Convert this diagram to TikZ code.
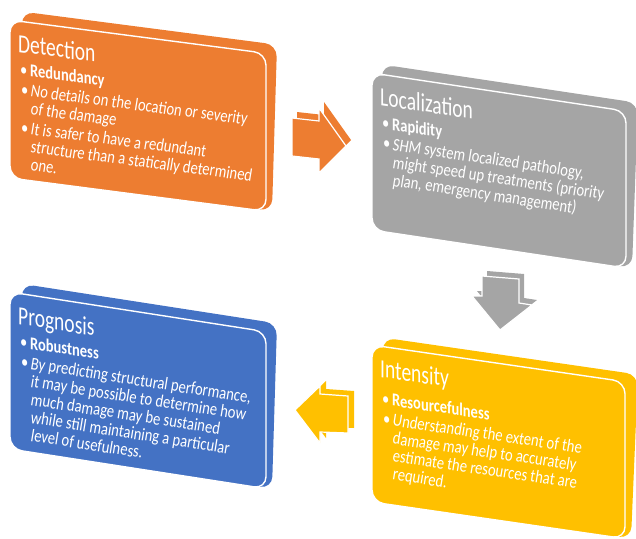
\documentclass[tikz,border=0pt]{standalone}
\usepackage{fontspec}
\setmainfont{Carlito}

\definecolor{cOrange}{HTML}{ED7D31}
\definecolor{cGray}{HTML}{A5A5A5}
\definecolor{cBlue}{HTML}{4472C4}
\definecolor{cGold}{HTML}{FFC000}

\tikzset{
  backface/.style={fill=#1, rounded corners=12pt},
  frontface/.style={fill=#1, draw=white, line width=1.4pt, rounded corners=12pt},
  arrowback/.style={fill=#1},
  arrowfront/.style={fill=#1, draw=white, line width=1.2pt},
  paneltext/.style={anchor=base west, inner sep=0pt, text=white, transform shape},
  boxtitle/.style={paneltext, yscale=1.35, font=\fontsize{19.5}{20}\selectfont},
  keyline/.style={paneltext, yscale=1.25, font=\fontsize{14.5}{15}\selectfont\bfseries},
  % oblique lines: each glyph row is leaned by the node's own slant
  noteline/.style={paneltext, yscale=1.25, xslant=0.2, font=\fontsize{14.5}{15}\selectfont},
  bulletmark/.style={paneltext, yscale=1.25, font=\fontsize{14.5}{15}\selectfont},
}

\begin{document}
\begin{tikzpicture}[x=1pt, y=-1pt]
\useasboundingbox (0,0) rectangle (636,538);

% ---- Detection panel ----
\begin{scope}[shift={(10,20)}, yslant=-0.13]
  \fill[backface=cOrange] (12,-10) -- (267,-10) -- (262,157) -- (12,157) -- cycle;
  \draw[frontface=cOrange] (0,0) rectangle (256,158);
  \node[boxtitle] (detTitle) at (8,31) {Detection};
  \node[bulletmark] (detB1) at (10,54) {\textbullet};
  \node[keyline] (detKey) at (20,54) {Redundancy};
  \node[bulletmark] (detB2) at (11,74) {\textbullet};
  \node[noteline] (detL1) at (20,74) {No details on the location or severity};
  \node[noteline] (detL2) at (20,92) {of the damage};
  \node[bulletmark] (detB3) at (11,112) {\textbullet};
  \node[noteline] (detL3) at (20,112) {It is safer to have a redundant};
  \node[noteline] (detL4) at (20,130) {structure than a statically determined};
  \node[noteline] (detL5) at (20,148) {one.};
\end{scope}

% ---- Localization panel ----
\begin{scope}[shift={(372,73)}, yslant=-0.15]
  \fill[backface=cGray] (10,-10) -- (266,-10) -- (260,156) -- (10,156) -- cycle;
  \draw[frontface=cGray] (0,0) rectangle (254,157);
  \node[boxtitle] (locTitle) at (8,31) {Localization};
  \node[bulletmark] (locB1) at (10,54) {\textbullet};
  \node[keyline] (locKey) at (20,54) {Rapidity};
  \node[bulletmark] (locB2) at (11,74) {\textbullet};
  \node[noteline] (locL1) at (20,74) {SHM system localized pathology,};
  \node[noteline] (locL2) at (20,92) {might speed up treatments (priority};
  \node[noteline] (locL3) at (20,110) {plan, emergency management)};
\end{scope}

% ---- Prognosis panel ----
\begin{scope}[shift={(10,292)}, yslant=-0.155]
  \fill[backface=cBlue] (12,-10) -- (267,-10) -- (262,156) -- (12,156) -- cycle;
  \draw[frontface=cBlue] (0,0) rectangle (256,157);
  \node[boxtitle] (proTitle) at (8,31) {Prognosis};
  \node[bulletmark] (proB1) at (10,54) {\textbullet};
  \node[keyline] (proKey) at (20,54) {Robustness};
  \node[bulletmark] (proB2) at (11,74) {\textbullet};
  \node[noteline] (proL1) at (20,74) {By predicting structural performance,};
  \node[noteline] (proL2) at (20,92) {it may be possible to determine how};
  \node[noteline] (proL3) at (20,110) {much damage may be sustained};
  \node[noteline] (proL4) at (20,128) {while still maintaining a particular};
  \node[noteline] (proL5) at (20,146) {level of usefulness.};
\end{scope}

% ---- Intensity panel ----
\begin{scope}[shift={(372,345)}, yslant=-0.145]
  \fill[backface=cGold] (11,-9) -- (266,-9) -- (259,156) -- (11,156) -- cycle;
  \draw[frontface=cGold] (0,0) rectangle (253,157);
  \node[boxtitle] (intTitle) at (8,31) {Intensity};
  \node[bulletmark] (intB1) at (10,58) {\textbullet};
  \node[keyline] (intKey) at (20,58) {Resourcefulness};
  \node[bulletmark] (intB2) at (11,78) {\textbullet};
  \node[noteline] (intL1) at (20,78) {Understanding the extent of the};
  \node[noteline] (intL2) at (20,96) {damage may help to accurately};
  \node[noteline] (intL3) at (20,114) {estimate the resources that are};
  \node[noteline] (intL4) at (20,132) {required.};
\end{scope}

% ---- block arrows between the panels ----
% right arrow (Detection -> Localization)
\fill[arrowback=cOrange, shift={(5,-6)}]
  (292,118) -- (319,121) -- (319,108) -- (346,146) -- (319,173) -- (319,159) -- (292,156) -- cycle;
\draw[arrowfront=cOrange]
  (292,118) -- (319,121) -- (319,108) -- (346,146) -- (319,173) -- (319,159) -- (292,156) -- cycle;

% down arrow (Localization -> Intensity)
\fill[arrowback=cGray, shift={(5,-5)}]
  (482,276) -- (519,279) -- (519,303) -- (532,305) -- (500,330) -- (472,296) -- (482,296) -- cycle;
\draw[arrowfront=cGray]
  (482,276) -- (519,279) -- (519,303) -- (532,305) -- (500,330) -- (472,296) -- (482,296) -- cycle;

% left arrow (Intensity -> Prognosis)
\fill[arrowback=cGold, shift={(6,-5)}]
  (295,410) -- (320,386) -- (320,394) -- (348,396) -- (348,433) -- (320,432) -- (320,443) -- cycle;
\draw[arrowfront=cGold]
  (295,410) -- (320,386) -- (320,394) -- (348,396) -- (348,433) -- (320,432) -- (320,443) -- cycle;

\end{tikzpicture}
\end{document}
